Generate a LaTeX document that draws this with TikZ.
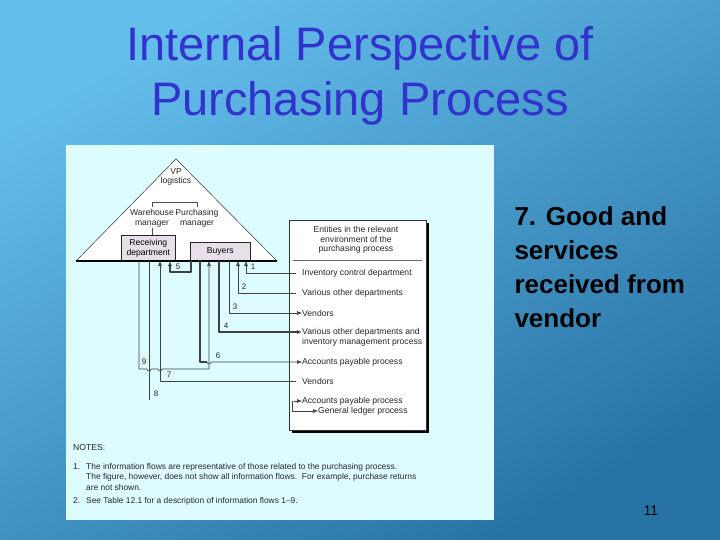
\documentclass[tikz,border=0pt]{standalone}
\usepackage{fontspec}
\setmainfont{Liberation Sans}
\usetikzlibrary{arrows.meta,positioning,calc}
\definecolor{bgA}{RGB}{100,190,235}
\definecolor{bgB}{RGB}{40,115,165}
\definecolor{titleblue}{RGB}{50,50,205}
\definecolor{panel}{RGB}{220,252,255}
\definecolor{boxgray}{RGB}{232,224,232}
\tikzset{
  txt/.style={font=\fontsize{8.6}{9.6}\selectfont, inner sep=0pt, text=black!85},
  flow/.style={draw=black!75, line width=0.6pt},
  thickflow/.style={draw=black!75, line width=1.3pt},
  arr/.style={-{Latex[length=5pt,width=4pt]}},
  num/.style={txt, font=\fontsize{8}{9}\selectfont}
}
\begin{document}
\begin{tikzpicture}[x=1pt,y=-1pt, line join=round]
\useasboundingbox (0,0) rectangle (720,540);
\shade[shading=axis, top color=bgA, bottom color=bgB, shading angle=30] (0,0) rectangle (720,540);
% title
\node[text=titleblue, font=\fontsize{47}{55}\selectfont, align=center] (title) at (360,76) {Internal Perspective of\\Purchasing Process};
\node[font=\bfseries\fontsize{26}{34}\selectfont, align=left, anchor=north west] (side) at (511,203) {7. Good and\\services\\received from\\vendor};
\node[font=\rmfamily\fontsize{14}{14}\selectfont] (page) at (651,511) {11};
% panel
\fill[panel] (66,145) rectangle (494,520);
% triangle
\coordinate (apex) at (176,159);
\coordinate (bl) at (76,261);
\coordinate (br) at (277,261);
\fill[white] (apex) -- (bl) -- (br) -- cycle;
\draw[black!80, line width=0.5pt] (bl) -- (apex) -- (br);
\node[txt, align=center] (vp) at (176,177) {VP\\logistics};
\draw[black!70, line width=0.4pt] (152,207) -- (152,202) -- (197,202) -- (197,207);
\node[txt, align=center] (wh) at (152,218) {Warehouse\\manager};
\node[txt, align=center] (pm) at (197,218) {Purchasing\\manager};
\node[draw=black!85, fill=boxgray, line width=0.6pt, minimum width=54pt, minimum height=26pt, anchor=north west, inner sep=0pt, align=center, font=\fontsize{8.6}{9.6}\selectfont] (recv) at (121,235) {Receiving\\department};
\node[draw=black!85, fill=boxgray, line width=0.6pt, minimum width=60pt, minimum height=19pt, anchor=north west, inner sep=0pt, font=\fontsize{8.6}{9.6}\selectfont] (buy) at (190,242) {Buyers};
\draw[black!70, line width=0.4pt] (152,228) -- (recv.north -| 152,0);
\draw[black, line width=1.4pt] (bl) -- (br);
% environment box
\fill[black] (292,223) rectangle (429,433);
\draw[draw=black!80, fill=white, line width=0.5pt] (289,220) rectangle (426,430);
\node[txt, align=center] (envhead) at (356,240) {Entities in the relevant\\environment of the\\purchasing process};
\draw[black!60, line width=0.4pt] (293,260) -- (422,260);
\node[txt, anchor=west] (e1) at (302,273) {Inventory control department};
\node[txt, anchor=west] (e2) at (302,293) {Various other departments};
\node[txt, anchor=west] (e3) at (302,313) {Vendors};
\node[txt, anchor=west, align=left] (e4) at (302,337) {Various other departments and\\inventory management process};
\node[txt, anchor=west] (e6) at (302,362) {Accounts payable process};
\node[txt, anchor=west] (e7) at (302,381) {Vendors};
\node[txt, anchor=west] (e8) at (302,401) {Accounts payable process};
\node[txt, anchor=west] (e9) at (318,411) {General ledger process};
% flows
\draw[flow, arr] (e1.west) ++(-6,0) -- (246,273) -- (246,261);
\node[num] (n1) at (253,267) {1};
\draw[flow, arr] (e2.west) ++(-6,0) -- (238,293) -- (238,261);
\node[num] (n2) at (244,287) {2};
\draw[flow, arr] (229,261) -- (229,313) -- (e3.west);
\node[num] (n3) at (235,307) {3};
\draw[thickflow, arr] (219,261) -- (219,332) -- (e4.west |- 0,332);
\node[num] (n4) at (226,326) {4};
\draw[thickflow, arr] (191,261) -- (191,272) -- (170,272) -- (170,261);
\node[num] (n5) at (178,267) {5};
\draw[thickflow] (200,261) -- (200,362) -- (207,362);
\draw[flow, arr] (207,362) arc (180:0:2) -- (e6.west);
\node[num] (n6) at (218,356) {6};
\draw[flow, arr] (e7.west) ++(-6,0) -- (160,381) -- (160,261);
\node[num] (n7) at (169,375) {7};
\draw[flow] (149,261) -- (149,400);
\node[num] (n8) at (156,394) {8};
\draw[flow, arr] (139,261) -- (139,369) -- (147,369) arc (180:0:2) -- (158,369) arc (180:0:2) -- (209,369) -- (209,261);
\node[num] (n9) at (144,362) {9};
\draw[flow, arr] (e8.west) ++(-8,0) coordinate (s8) -- (e8.west);
\draw[flow, arr] (s8) ++(-2,0) -- ++(0,10) -- (e9.west);
% notes
\node[txt, anchor=west] (notes) at (73,448) {NOTES:};
\node[txt, anchor=north west] (k1) at (73,463) {1.};
\node[txt, anchor=north west, align=left, font=\fontsize{8.4}{10.5}\selectfont] (t1) at (86,463) {The information flows are representative of those related to the purchasing process.\\The figure, however, does not show all information flows.\ \ For example, purchase returns\\are not shown.};
\node[txt, anchor=north west] (k2) at (73,497) {2.};
\node[txt, anchor=north west, font=\fontsize{8.4}{10.5}\selectfont] (t2) at (86,497) {See Table 12.1 for a description of information flows 1--9.};
\end{tikzpicture}
\end{document}
